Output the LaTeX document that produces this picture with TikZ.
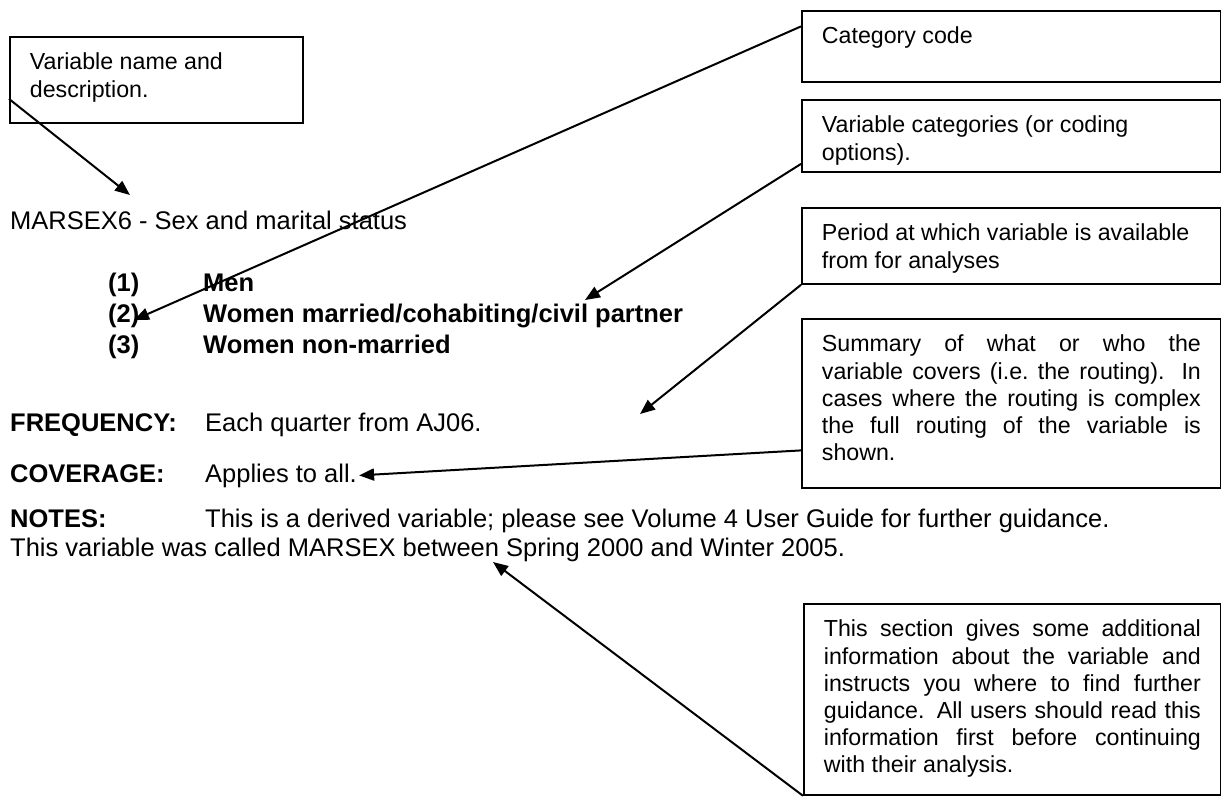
\documentclass[tikz,border=0pt]{standalone}
\usepackage{fontspec}
\setmainfont{Liberation Sans}
\usetikzlibrary{arrows.meta, positioning, calc}

\newcommand{\boxfont}{\fontsize{23.2pt}{27.2pt}\selectfont}
\newcommand{\bodyfont}{\fontsize{25.5pt}{29.3pt}\selectfont}
\newcommand{\boxtext}[3]{\parbox[t][#2][t]{#1}{#3}}

\begin{document}
\begin{tikzpicture}[x=1pt, y=-1pt,
    callout/.style = {draw, line width=1.8pt, anchor=north west,
                      inner xsep=20pt, inner ysep=14pt, font=\boxfont},
       line/.style = {anchor=base west, inner sep=0pt, font=\bodyfont},
       bold/.style = {line, font=\bodyfont\bfseries},
    pointer/.style = {line width=2pt, -{Triangle[length=15pt,width=12pt]}}]
  \useasboundingbox (0,0) rectangle (1221,796);

  % the entry itself
  \node[line] (title) at (10,229) {MARSEX6 - Sex and marital status};
  \node[bold] (c1n) at (108,291) {(1)};
  \node[bold] (c1t) at (203,291) {Men};
  \node[bold] (c2n) at (108,322) {(2)};
  \node[bold] (c2t) at (203,322) {Women married/cohabiting/civil partner};
  \node[bold] (c3n) at (108,353) {(3)};
  \node[bold] (c3t) at (203,353) {Women non-married};

  \node[bold] (freqlab) at (10,431) {FREQUENCY:};
  \node[line] (freqtxt) at (205,431) {Each quarter from AJ06.};
  \node[bold] (covlab) at (10,482) {COVERAGE:};
  \node[line] (covtxt) at (205,482) {Applies to all.};
  \node[bold] (noteslab) at (10,527) {NOTES:};
  \node[line] (notestxt) at (205,527) {This is a derived variable; please see Volume 4 User Guide for further guidance.};
  \node[line] (notesmore) at (10,556) {This variable was called MARSEX between Spring 2000 and Winter 2005.};

  % the callouts
  \node[callout] (name) at (9,36)
    {\boxtext{253pt}{58pt}{\raggedright\strut Variable name and description.}};
  \node[callout] (code) at (801,10)
    {\boxtext{379pt}{43pt}{\strut Category code}};
  \node[callout] (cats) at (801,99)
    {\boxtext{379pt}{44pt}{\raggedright\strut Variable categories (or coding options).}};
  \node[callout] (period) at (801,207)
    {\boxtext{379pt}{48pt}{\raggedright\strut Period at which variable is available from for analyses}};
  \node[callout] (cover) at (801,318)
    {\boxtext{379pt}{141pt}{\strut Summary of what or who the\linebreak
     variable covers (i.e.\ the routing). In\linebreak
     cases where the routing is complex\linebreak
     the full routing of the variable is\linebreak shown.}};
  \node[callout] (notes) at (803,603)
    {\boxtext{377pt}{163pt}{\strut This section gives some additional\linebreak
     information about the variable and\linebreak
     instructs you where to find further\linebreak
     guidance. All users should read this\linebreak
     information first before continuing\linebreak
     with their analysis.}};

  \path[pointer]
    ([yshift=-19pt]name.west) edge ($(title.base west)+(120,-34)$)
    ([yshift=20pt]code.west) edge ($(c2n.base west)+(26,-2)$)
    ([yshift=-28pt]cats.west) edge ($(c2t.base west)+(382,-22)$)
    (period.south west) edge ($(freqtxt.base west)+(435,-17)$)
    ([yshift=-47pt]cover.west) edge ([xshift=2pt]covtxt.east)
    (notes.south west) edge ($(notesmore.base west)+(483,6)$);
\end{tikzpicture}
\end{document}
